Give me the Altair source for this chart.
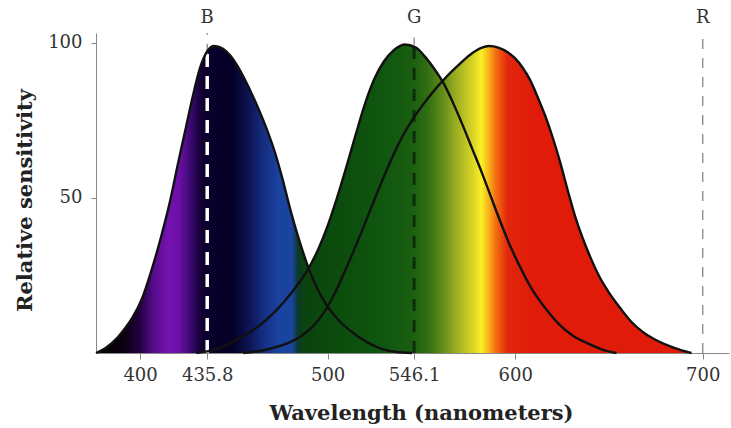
import altair as alt
import pandas as pd

X_MIN, X_MAX, Y_MAX = 376.5, 714.0, 103.2

# S (blue) cone
s_nm = [376.5, 382, 388, 392, 396, 401, 406, 411, 416, 420, 424, 428, 432, 436, 439.5,
        444, 448, 452, 456, 460, 464, 468, 472, 476, 480, 484, 488, 492, 496, 500, 506,
        514, 521, 528, 536, 545]
s_val = [0, 1.8, 5, 8, 11.5, 17.5, 26.5, 37, 49, 60.5, 71.5, 82.5, 92, 97.5, 99,
         98.2, 96, 92.5, 88, 83, 77.5, 71.5, 64.5, 56, 46.5, 38, 30.5, 24, 19, 15, 10.5,
         6.3, 3.5, 1.5, 0.4, 0]

# M (green) cone
m_nm = [430, 440, 448, 456, 463, 470, 477, 484, 490, 495, 500, 505, 510, 515, 520, 525,
        530, 535, 541, 547, 552, 557, 562, 567, 572, 577, 582, 587, 592, 597, 602, 609,
        616, 623, 631, 639, 646, 654]
m_val = [0, 1.2, 3.2, 5.8, 8.6, 12.2, 16.7, 22, 27.5, 33.5, 41, 50, 60, 70.5, 80.5, 88.5,
         94, 97.5, 99.5, 98.5, 95.5, 91.5, 86.8, 80.5, 73.5, 66, 58.5, 50.5, 42.5, 35, 28.5,
         20.5, 14.5, 9.5, 5.5, 3, 1.2, 0]

# L (red) cone
l_nm = [455, 465, 472, 480, 486, 492, 498, 504, 510, 516, 522, 528, 534, 540, 546, 552,
        558, 564, 570, 576, 582, 586, 591, 596, 600, 604, 608, 612, 616, 620, 624, 628,
        632, 636, 640, 645, 650, 656, 662, 668, 675, 682, 688, 694]
l_val = [0, 0.8, 1.8, 3.5, 5.5, 8.5, 13, 19.5, 27.5, 36, 45, 54, 62.5, 70, 76, 81,
         85.5, 89.5, 93, 96.2, 98.4, 99, 98.5, 97, 95, 92, 88, 82.5, 76.5, 69.5, 61.5, 52.5,
         44, 37, 31, 24.5, 19.5, 14.5, 10, 6.8, 4.2, 2.3, 1, 0]

# primaries
ref_nm = [435.8, 546.1, 700.0]
ref_label = ["B", "G", "R"]
ref_inner = [96.5, 98.5, 0.0]

x_ticks = [400, 435.8, 500, 546.1, 600, 700]
y_ticks = [50, 100]

# spectrum colours used for the fill
spec_nm = [376.5, 392, 400, 408, 415, 421, 427, 433, 440, 450, 458, 466, 474, 481,
           484, 487, 500, 530, 545, 553, 561, 569, 577, 582, 586, 590, 596, 610, 714]
spec_col = ["#000000", "#0a0012", "#250042", "#5a0c90", "#7412b0", "#6a10a5", "#3a0870",
            "#100030", "#08002a", "#050026", "#0c1454", "#152e82", "#1a42a0", "#1a44a0",
            "#0c3a30", "#0a4210", "#0b4a0c", "#0f560f", "#1a5e10", "#306d12", "#5e8b18",
            "#9fb022", "#d6d225", "#fbf028", "#f8b018", "#f26a12", "#e2260c", "#e01b0a",
            "#e01b0a"]

rows_area, rows_line = [], []
for name, nm, val in [("S", s_nm, s_val), ("M", m_nm, m_val), ("L", l_nm, l_val)]:
    for a, b in zip(nm, val):
        rows_line.append({"curve": name, "nm": a, "val": b})
    pts = list(zip(nm, val))
    if pts[0][0] > X_MIN:
        pts = [(X_MIN, 0)] + pts
    if pts[-1][0] < X_MAX:
        pts = pts + [(X_MAX, 0)]
    for a, b in pts:
        rows_area.append({"curve": name, "nm": a, "val": b})
area_df = pd.DataFrame(rows_area)
line_df = pd.DataFrame(rows_line)

ref_df = pd.DataFrame({"nm": ref_nm, "label": ref_label, "val": ref_inner,
                       "top": [Y_MAX] * 3, "zero": [0.0] * 3})

grad = alt.Gradient(
    gradient="linear",
    stops=[alt.GradientStop(color=c, offset=(w - X_MIN) / (X_MAX - X_MIN))
           for w, c in zip(spec_nm, spec_col)],
    x1=0, x2=1, y1=0, y2=0,
)

FONT = "DejaVu Serif"
x_axis = alt.Axis(values=x_ticks, format=".1~f", title="Wavelength (nanometers)", grid=False,
                  tickSize=6, labelPadding=7, domainColor="#888", tickColor="#888",
                  labelColor="#333", labelFont=FONT, labelFontSize=18, labelFlush=False,
                  labelOverlap=False, titleFont=FONT, titleFontSize=21, titleFontWeight="bold",
                  titleColor="#222", titleX=325, titleY=60, titleBaseline="middle",
                  titleAlign="center")
y_axis = alt.Axis(values=y_ticks, format="d", title="Relative sensitivity", grid=False,
                  tickSize=5, labelPadding=9, domainColor="#888", tickColor="#888",
                  labelColor="#333", labelFont=FONT, labelFontSize=18, labelFlush=False,
                  titleFont=FONT, titleFontSize=21, titleFontWeight="bold", titleColor="#222",
                  titleX=-71, titleY=167, titleAngle=270, titleBaseline="middle",
                  titleAlign="center")

xs = alt.Scale(domain=[X_MIN, X_MAX], nice=False, zero=False)
ys = alt.Scale(domain=[0, Y_MAX], nice=False)

def X(field="nm"):
    return alt.X(f"{field}:Q", scale=xs, axis=x_axis)

def Y(field="val"):
    return alt.Y(f"{field}:Q", scale=ys, axis=y_axis, stack=None)

area = alt.Chart(area_df).mark_area(color=grad, interpolate="monotone").encode(
    x=X(), y=Y(), detail="curve:N")

lines = alt.Chart(line_df).mark_line(color="#111", strokeWidth=2.4, interpolate="monotone").encode(
    x=X(), y=Y(), detail="curve:N")

base_r = alt.Chart(ref_df)
white_b = base_r.transform_filter(alt.datum.label == "B").mark_rule(
    color="white", strokeWidth=3.5, strokeDash=[13, 9]).encode(x=X(), y=Y("zero"), y2="val:Q")
dark_g = base_r.transform_filter(alt.datum.label == "G").mark_rule(
    color="#0a260a", strokeWidth=3, strokeDash=[12, 9], opacity=0.85).encode(
    x=X(), y=Y("zero"), y2="val:Q")
gray = base_r.mark_rule(color="#888", strokeWidth=1.3, strokeDash=[10, 9]).encode(
    x=X(), y=Y("val"), y2="top:Q")
labels = base_r.mark_text(font=FONT, fontSize=18, color="#333", baseline="middle").encode(
    x=X(), y=alt.value(-15), text="label:N")

chart = alt.layer(area, gray, white_b, dark_g, lines, labels).properties(
    width=633, height=320,
    autosize=alt.AutoSizeParams(type="none"),
    padding={"left": 96, "top": 33, "right": 2, "bottom": 75},
).configure_view(stroke=None)

chart.save("out.html", embed_options={"renderer": "svg", "actions": False})
